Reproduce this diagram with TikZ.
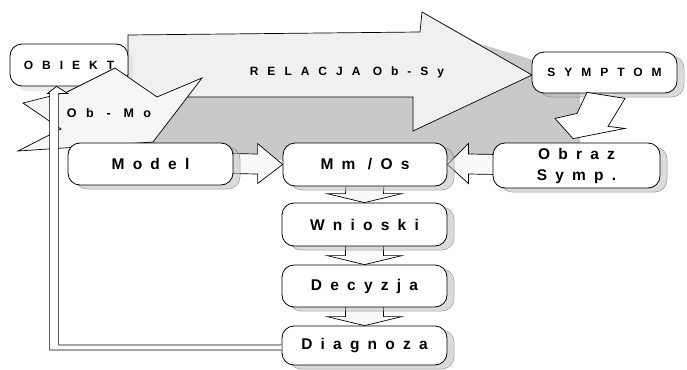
\documentclass[tikz,border=0pt]{standalone}
\usepackage{fontspec}
\setmainfont{Liberation Sans}
\newfontfamily\bigsp[LetterSpace=53]{Liberation Sans}
\newfontfamily\smallsp[LetterSpace=75]{Liberation Sans}
\usetikzlibrary{calc,shadows}
\pgfdeclarelayer{back}
\pgfdeclarelayer{mid}
\pgfsetlayers{back,mid,main}
\tikzset{
  boxbase/.style={draw=black, line width=0.8pt, fill=white, rounded corners=12pt,
    minimum width=165pt, minimum height=42pt, inner sep=0pt, align=center,
    font=\bigsp\bfseries\fontsize{15.5}{21}\selectfont},
  box/.style={boxbase, drop shadow={shadow xshift=7pt, shadow yshift=-4pt, fill=gray!55, draw=black!70, line width=0.5pt}},
  smallbox/.style={box, font=\smallsp\bfseries\fontsize{12}{14}\selectfont},
  bigarrow/.style={draw=black, line width=0.7pt, fill=gray!12, line join=miter},
  shadearea/.style={fill=gray!42},
  hollow/.style={draw=black, line width=0.7pt, fill=white},
  harrow/.style={draw=black, line width=0.7pt, fill=gray!5},
  lbl/.style={font=\smallsp\bfseries\fontsize{12}{14}\selectfont, inner sep=0pt},
}
\newcommand\vArr[2]{%
  \path[harrow] ($(#1.south)+(-19,-2)$) -- ($(#2.north)+(-19,-9)$) -- ($(#2.north)+(-37.5,-9)$)
    -- (#2.north) -- ($(#2.north)+(37.5,-9)$) -- ($(#2.north)+(19,-9)$) -- ($(#1.south)+(19,-2)$) -- cycle;}
\begin{document}
\begin{tikzpicture}[x=1pt,y=-1pt]
\begin{pgfonlayer}{back}
  \fill[white] (0,0) rectangle (687,369);
\end{pgfonlayer}
\useasboundingbox (0,0) rectangle (687,369);

% big arrow RELACJA with its shadow
\begin{pgfonlayer}{back}
  \path[shadearea] (145,97) -- (145,160) -- (580,160) -- (580,62) -- (540,62) -- (480,44) -- (425,14) -- (425,97) -- cycle;
  \path[bigarrow] (128,35) -- (420,32) -- (422,12) -- (532,75) -- (413,131) -- (413,97) -- (128,97) -- cycle;
\end{pgfonlayer}

\node[boxbase, minimum width=118pt, minimum height=42pt,
  font=\smallsp\bfseries\fontsize{12}{14}\selectfont,
  drop shadow={shadow xshift=5pt, shadow yshift=-5pt, fill=gray!30}] (obiekt) at (69,65) {OBIEKT};
\node[smallbox, minimum width=145pt, minimum height=41pt] (symptom) at (604.5,72.5) {SYMPTOM};
\node[lbl] (relacja) at (347,72) {RELACJA Ob-Sy};

% Ob-Mo arrow
\path[bigarrow, fill=gray!7] (115,68) -- (157,97) -- (202,78) -- (153,142) -- (18,151) -- (61,129) -- (23,103) -- (67,92) -- cycle;
\node[lbl, font=\smallsp\bfseries\fontsize{12.5}{14}\selectfont] (obmo) at (109,113) {Ob - Mo};

\node[box] (model) at (150.5,164) {Model};
\node[box, minimum width=164pt, minimum height=43pt] (mm) at (365,164.5) {Mm /Os};
\node[box, minimum width=167pt, minimum height=45pt] (obraz) at (576.5,165.5) {Obraz\\Symp.};
\node[box, minimum height=43pt] (wnioski) at (364.5,224.5) {Wnioski};
\node[box] (decyzja) at (364.5,286) {Decyzja};
\node[box, minimum height=39pt] (diag) at (364.5,345.5) {Diagnoza};

\begin{pgfonlayer}{mid}
  \path[harrow] ($(model.east)+(-5,-10.5)$) -- ($(mm.west)+(-25,-10.5)$) -- ($(mm.west)+(-25,-21)$) -- (mm.west)
    -- ($(mm.west)+(-25,19)$) -- ($(mm.west)+(-25,9.5)$) -- ($(model.east)+(-5,9.5)$) -- cycle;
  \path[harrow] ($(obraz.west)+(5,-11)$) -- ($(mm.east)+(21,-10.5)$) -- ($(mm.east)+(21,-21)$) -- (mm.east)
    -- ($(mm.east)+(21,19)$) -- ($(mm.east)+(21,9.5)$) -- ($(obraz.west)+(5,9)$) -- cycle;
  \vArr{mm}{wnioski}
  \vArr{wnioski}{decyzja}
  \vArr{decyzja}{diag}
\end{pgfonlayer}

% SYMPTOM -> Obraz
\filldraw[hollow] ($(symptom.south)+(-17.5,-1)$) -- ($(symptom.south)+(20.5,5)$) -- ($(symptom.south)+(3.5,33)$)
  -- ($(symptom.south)+(20.5,35)$) -- ($(obraz.north)+(-3.5,-4)$) -- ($(symptom.south)+(-49.5,25)$)
  -- ($(symptom.south)+(-27.5,20)$) -- cycle;

% feedback Diagnoza -> OBIEKT
\coordinate (fbtip) at ($(obiekt.south west)+(47,0)$);
\coordinate (fbA) at ($(diag.west)+(0,-0.5)$);
\coordinate (fbB) at ($(diag.west)+(0,4.5)$);
\coordinate (fbI) at ($(fbtip)+(2,7)$);
\coordinate (fbO) at ($(fbtip)+(-7,7)$);
\filldraw[hollow] (fbA) -- (fbI |- fbA) -- (fbI) -- ($(fbtip)+(11,7)$) -- (fbtip) -- ($(fbtip)+(-9,7)$)
  -- (fbO) -- (fbO |- fbB) -- (fbB);
\end{tikzpicture}
\end{document}
